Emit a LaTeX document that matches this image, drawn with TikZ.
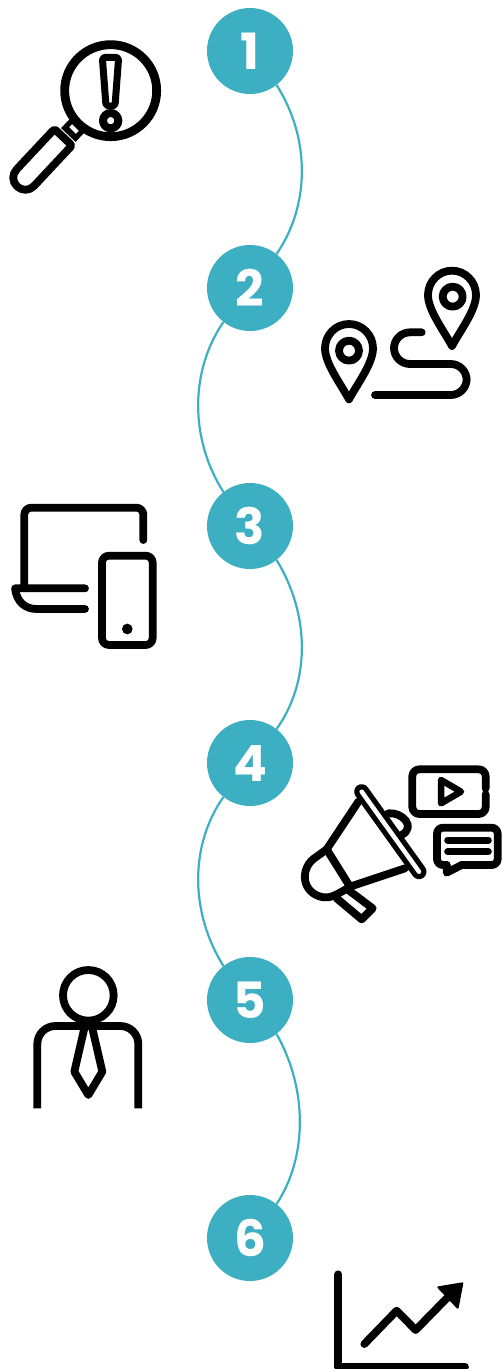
\documentclass[tikz,border=0pt]{standalone}
\usepackage{fontspec}
\setmainfont{Poppins}
\definecolor{teal1}{HTML}{3DAFC2}
\tikzset{
  stepnode/.style={circle,fill=teal1,minimum size=86pt,inner sep=0pt,text=white,font=\fontsize{50}{50}\selectfont\bfseries},
  linkline/.style={draw=teal1,line width=2.2pt},
  ink/.style={draw=black,line width=7.8pt,line cap=round,line join=round},
  zoomA/.style={x=0.33333pt,y=-0.33333pt}
}
\begin{document}
\begin{tikzpicture}[x=1pt,y=-1pt]
\useasboundingbox (0,0) rectangle (501,1369);
% numbered steps
\node[stepnode] (c1) at (250,51) {1};
\node[stepnode] (c2) at (250,288) {2};
\node[stepnode] (c3) at (250,526) {3};
\node[stepnode] (c4) at (250,763) {4};
\node[stepnode] (c5) at (250,1000) {5};
\node[stepnode] (c6) at (250,1238) {6};
\draw[linkline] (c1.-52) .. controls +(33.7,53) and +(33.7,-49) .. (c2.52);
\draw[linkline] (c2.232) .. controls +(-33.7,49) and +(-33.7,-53) .. (c3.128);
\draw[linkline] (c3.-52) .. controls +(33.7,55) and +(33.7,-47) .. (c4.52);
\draw[linkline] (c4.232) .. controls +(-33.7,48) and +(-33.7,-54) .. (c5.128);
\draw[linkline] (c5.-52) .. controls +(31,55) and +(31,-47) .. (c6.52);
% magnifier
\begin{scope}[shift={(0,30)},zoomA]
\draw[line width=20pt,line cap=butt] (205,315)--(240,278);
\draw[white,line width=4pt] (212,287)--(232,307);
\draw[ink,fill=white] (50,418) .. controls (36,433) and (36,455) .. (51,469) .. controls (66,483) and (88,483) .. (102,468) -- (205,358) .. controls (216,347) and (216,347) .. (206,337) -- (174,307) .. controls (164,297) and (164,297) .. (153,308) -- cycle;
\draw[ink,line width=8.8pt,fill=white] (332,182) circle[radius=138];
\draw[ink,line width=7pt,rounded corners=3pt] (307,82)--(356,82)--(345,228)--(318,228)--cycle;
\draw[ink,line width=8pt] (332,272) circle[radius=23];
\end{scope}
% pins and route
\begin{scope}[shift={(310,260)},zoomA]
\draw[ink] (426,258) .. controls (400,210) and (354,150) .. (354,105) .. controls (354,65) and (386,32) .. (426,32) .. controls (466,32) and (498,65) .. (498,105) .. controls (498,150) and (452,210) .. (426,258) -- cycle;
\draw[ink] (428,110) circle[radius=30];
\draw[ink] (117,418) .. controls (91,370) and (45,310) .. (45,265) .. controls (45,225) and (77,192) .. (117,192) .. controls (157,192) and (189,225) .. (189,265) .. controls (189,310) and (143,370) .. (117,418) -- cycle;
\draw[ink] (117,272) circle[radius=30];
\draw[ink,rounded corners=16pt] (335,217)--(252,217)--(252,312)--(470,312)--(470,405)--(195,405);
\end{scope}
% laptop and phone
\begin{scope}[shift={(0,495)},zoomA]
\draw[ink,rounded corners=7pt] (430,135)--(430,38)--(73,38)--(73,280);
\draw[ink] (255,280)--(45,280) .. controls (50,320) and (75,342) .. (110,342)--(255,342);
\draw[ink,rounded corners=7pt] (306,182) rectangle (458,450);
\fill (382,402) circle[radius=16];
\end{scope}
% megaphone
\begin{scope}[shift={(295,760)},zoomA]
\draw[ink] (190,125)--(95,268)--(165,380)--(330,325);
\draw[ink] (95,268)--(55,297) .. controls (15,330) and (20,400) .. (85,412) .. controls (105,415) and (125,405) .. (165,380);
\draw[ink] (125,415)--(200,478)--(233,445)--(160,390);
\draw[ink] (280,160) .. controls (320,155) and (365,200) .. (320,225);
\draw[line width=15pt,line cap=round] (200,95)--(372,335);
\draw[white,line width=4.5pt,line cap=round] (200,95)--(372,335);
\draw[ink,rounded corners=7pt] (572,85)--(572,28)--(352,28)--(352,162)--(572,162)--(572,103);
\draw[ink,line width=6.5pt] (438,60)--(498,95)--(438,130)--cycle;
\draw[ink,rounded corners=6pt] (500,315)--(608,315)--(608,203)--(426,203)--(426,315)--(455,315);
\draw[ink] (455,315)--(455,338)--(500,315);
\draw[ink,line width=7pt] (458,240)--(580,240);
\draw[ink,line width=7pt] (458,275)--(580,275);
\end{scope}
% person
\begin{scope}[shift={(20,960)},zoomA]
\draw[ink] (205,106) circle[radius=76];
\draw[ink,line cap=butt,rounded corners=18pt] (52,445)--(52,198)--(355,198)--(355,445);
\draw[ink] (193,205)--(163,335)--(205,405)--(247,335)--(217,205);
\end{scope}
% chart
\begin{scope}[shift={(325,1265)},zoomA]
\draw[ink] (40,28)--(40,305)--(420,305);
\draw[ink] (118,237)--(215,137)--(272,195)--(370,95);
\draw[black,fill=black,line width=2pt,line join=round] (340,67)--(412,55)--(398,128)--cycle;
\end{scope}
\end{tikzpicture}
\end{document}
